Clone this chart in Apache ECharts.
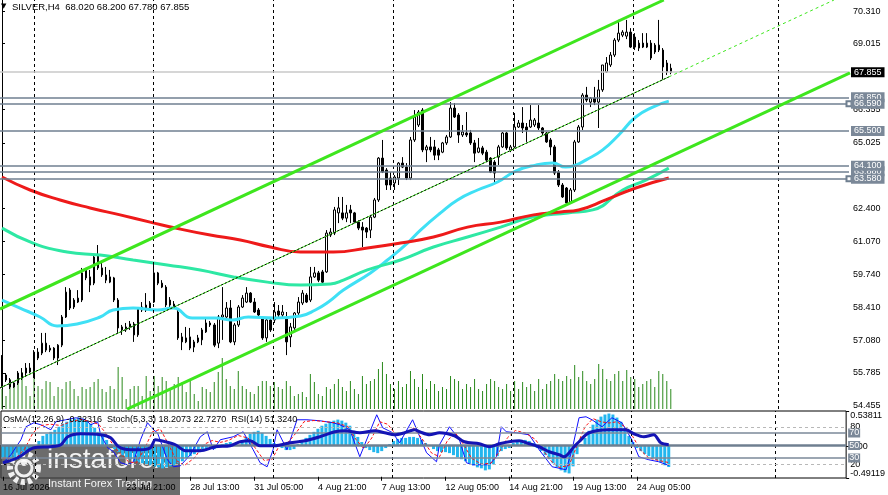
<!DOCTYPE html>
<html>
<head>
<meta charset="utf-8">
<script src="https://cdn.jsdelivr.net/npm/echarts@6/dist/echarts.min.js"></script>
<style>html,body{margin:0;padding:0;background:#fff;}</style>
</head>
<body>
<div id="main" style="width:888px;height:495px;"></div>
<script type="text/javascript">
// SILVER H4, bars 0..167 ([open, close, low, high])
var candles = [
  [55.58,55.66,55.22,56.50],[55.50,55.70,55.42,55.78],[55.50,55.22,55.14,55.58],[55.38,55.22,55.18,55.42],
  [55.38,55.78,55.30,55.86],[55.58,55.78,55.50,55.98],[55.78,55.98,55.62,56.18],[55.98,55.82,55.78,56.18],
  [55.62,56.62,55.58,56.70],[56.62,56.38,56.30,56.78],[56.58,56.98,56.50,57.39],[56.98,56.70,56.62,57.39],
  [56.70,56.78,56.62,56.90],[56.78,56.38,56.30,56.82],[56.38,56.90,56.10,56.94],[56.90,58.03,56.82,58.11],
  [58.03,59.03,57.99,59.23],[59.11,58.39,58.31,59.19],[58.71,58.43,58.35,58.79],[58.63,58.79,58.59,59.11],
  [58.71,59.80,58.63,60.00],[59.92,59.60,59.51,60.00],[59.64,59.31,59.03,59.92],[59.39,60.44,59.31,60.52],
  [60.52,60.00,59.92,60.92],[60.00,59.72,59.64,60.20],[59.72,59.51,59.39,60.04],[59.43,59.64,59.39,59.92],
  [59.60,58.71,58.63,59.64],[58.71,57.59,57.39,58.79],[57.51,57.63,57.31,57.71],[57.51,57.63,57.43,57.79],
  [57.75,57.63,57.51,57.87],[57.75,57.31,57.03,57.83],[57.31,58.39,57.23,58.43],[58.31,58.43,58.23,58.63],
  [58.31,58.51,58.23,58.99],[58.59,58.39,58.31,58.67],[58.63,59.80,58.59,60.12],[59.80,59.39,59.31,59.84],
  [59.39,59.23,59.19,59.51],[59.23,58.51,58.43,59.31],[58.71,58.51,58.39,58.83],[58.43,58.55,58.35,58.67],
  [58.23,57.19,57.11,58.39],[57.23,57.03,56.70,57.39],[57.03,57.19,56.98,57.63],[57.23,56.78,56.70,57.59],
  [56.82,57.03,56.62,57.11],[57.03,57.19,56.98,57.31],[57.11,57.51,56.90,57.59],[57.43,57.79,57.39,57.99],
  [57.79,57.71,57.63,57.87],[57.71,56.90,56.82,57.79],[56.98,58.03,56.78,58.11],[58.03,58.11,57.11,59.23],
  [58.03,58.39,57.99,58.63],[58.39,57.03,56.98,58.71],[57.03,57.71,56.90,57.79],[57.71,58.43,57.63,58.51],
  [58.43,58.79,58.39,58.91],[58.63,58.99,58.59,59.23],[58.99,58.63,58.59,59.03],[58.63,58.23,58.19,58.79],
  [58.31,58.11,58.03,58.39],[57.99,57.19,57.11,58.03],[57.19,57.91,57.03,58.03],[57.91,57.51,57.43,57.99],
  [57.91,58.23,57.79,58.63],[58.27,58.11,57.99,58.51],[58.11,58.23,58.03,58.51],[57.99,57.03,56.50,58.23],
  [57.23,57.63,56.82,57.79],[57.59,58.19,57.51,58.23],[58.19,58.63,58.11,58.83],[58.59,58.99,58.51,59.11],
  [58.91,58.63,58.59,58.99],[58.71,59.64,58.63,60.04],[59.64,59.80,59.60,60.04],[59.80,59.51,59.43,59.88],
  [59.84,59.43,59.39,59.92],[59.84,61.40,59.80,61.52],[61.32,61.44,61.24,61.60],[61.40,62.33,61.32,62.45],
  [62.21,62.41,61.80,62.85],[62.21,62.00,61.92,62.85],[62.00,62.21,61.84,62.53],[62.33,62.21,61.80,62.53],
  [62.21,61.84,61.80,62.25],[61.84,61.60,61.52,61.92],[61.64,61.52,60.84,61.84],[61.60,61.44,61.20,61.64],
  [61.52,62.04,61.20,62.13],[62.04,62.73,62.00,62.81],[62.73,64.41,62.65,64.45],[64.41,63.85,63.81,65.14],
  [63.93,63.33,63.13,64.01],[63.61,63.33,63.13,63.85],[63.41,63.65,63.13,63.73],[63.61,64.21,63.33,64.25],
  [64.21,64.05,64.01,64.45],[64.05,63.61,63.53,64.21],[63.61,65.14,63.53,65.26],[65.14,66.06,65.06,66.34],
  [65.74,66.26,65.66,66.34],[66.34,64.74,64.65,66.42],[64.74,64.86,64.25,64.94],[64.86,64.74,64.65,65.26],
  [64.86,64.53,64.33,65.14],[64.74,64.53,64.33,64.82],[64.65,65.02,64.61,65.06],[65.02,65.26,64.94,65.34],
  [65.26,66.42,65.22,66.66],[66.42,66.06,66.02,66.62],[66.14,65.34,65.02,66.22],[65.34,65.46,65.26,65.74],
  [65.42,65.34,65.26,66.26],[65.42,65.02,64.94,65.54],[65.02,64.61,64.25,65.14],[64.65,64.82,64.61,65.22],
  [64.82,64.61,64.53,64.90],[64.65,64.33,64.25,64.74],[64.41,63.85,63.81,64.45],[64.25,63.81,63.45,64.33],
  [64.45,64.86,64.13,64.94],[64.86,65.42,64.82,65.46],[65.42,64.82,64.74,65.46],[64.74,64.86,64.65,64.94],
  [64.86,65.66,64.82,66.22],[65.66,65.82,65.62,65.94],[65.82,65.62,65.42,66.46],[65.66,65.54,65.06,65.82],
  [65.66,65.94,65.62,66.54],[65.74,65.94,65.66,66.02],[65.82,65.62,65.54,66.54],[65.62,65.42,65.34,65.66],
  [65.42,65.06,65.02,65.46],[65.14,64.86,64.53,65.22],[64.86,63.81,63.73,64.94],[63.85,63.33,63.25,63.93],
  [63.33,62.85,62.81,63.41],[63.21,62.61,62.57,63.25],[62.65,63.13,62.61,63.21],[63.13,65.06,63.05,65.14],
  [65.06,65.66,65.02,65.74],[65.66,66.94,65.54,67.02],[66.94,66.74,66.66,67.27],[66.66,66.82,66.46,66.86],
  [66.82,66.66,66.54,67.27],[66.66,67.15,65.62,67.55],[67.15,68.15,67.07,68.15],[67.87,68.23,67.83,68.47],
  [68.15,68.55,68.07,68.67],[68.55,69.15,68.47,69.23],[69.15,69.43,69.07,69.96],[69.35,69.47,69.27,69.55],
  [69.31,69.47,69.19,69.96],[69.47,68.87,68.83,69.63],[69.27,68.87,68.75,69.43],[68.83,69.03,68.71,69.15],
  [69.03,68.87,68.83,69.43],[68.87,69.03,68.83,69.43],[69.03,68.43,68.35,69.15],[68.67,68.95,68.59,69.03],
  [68.75,68.95,68.67,69.96],[68.75,68.07,67.55,68.83],[68.23,67.87,67.75,68.35],[68.02,67.855,67.78,68.20]
];

var volumes = [
  20,13,30,23,33,37,23,13,33,23,20,28,27,13,22,20,27,28,20,13,22,20,22,27,30,20,17,23,20,42,
  32,10,20,23,23,13,33,18,33,23,32,28,20,25,32,27,17,30,15,8,22,20,17,27,37,51,30,23,20,38,
  23,20,17,15,23,28,28,23,27,22,20,28,23,13,15,17,12,35,27,15,13,22,20,25,30,22,18,28,20,15,
  33,25,28,30,40,47,35,25,20,28,22,25,38,30,22,35,20,28,25,18,22,20,33,30,28,20,25,22,30,20,
  18,25,30,28,22,20,25,18,28,20,27,22,25,18,30,20,25,28,35,30,28,33,30,44,32,38,28,25,30,45,
  40,30,28,35,38,28,39,32,30,22,25,28,30,22,38,35,28,20
];

// moving averages: [bar, price]
var maRed = [[0,63.65],[7,63.13],[14.5,62.73],[22,62.41],[29.5,62.13],[37,61.84],[44.5,61.56],[52,61.32],
  [59.5,61.12],[67,60.84],[74.5,60.64],[82.75,60.64],[91.25,60.80],[99.5,61.00],[107.75,61.24],[116.25,61.64],
  [124.5,61.84],[132.75,62.13],[139.5,62.25],[144,62.33],[150.75,62.73],[158.25,63.21],[166.5,63.61]];
var maTeal = [[0,61.60],[7.75,61.00],[16.25,60.64],[24.5,60.52],[32.75,60.32],[41.25,60.12],[49.5,59.92],
  [57.75,59.64],[66.25,59.43],[74.5,59.31],[82,59.35],[85.25,59.51],[91.25,59.92],[99.5,60.32],[107.75,60.84],
  [116.25,61.24],[124.5,61.64],[132.75,62.05],[141.25,62.21],[147.5,62.33],[155,63.13],[160.75,63.53],[166.5,64.01]];
var maCyan = [[0,58.71],[4.5,58.39],[9.5,58.03],[13.75,57.67],[18.75,57.75],[24.5,58.03],[27.75,58.31],
  [32.75,58.39],[38.75,58.31],[42.75,58.39],[47.5,57.99],[53.25,57.99],[57.5,57.91],[61.5,58.03],[68.25,57.99],
  [74.5,58.07],[78.25,58.31],[81.5,58.63],[85.25,59.11],[92,59.80],[96.25,60.32],[101.25,61.00],[104.5,61.52],
  [109.5,62.21],[113.75,62.73],[118.75,63.13],[123.75,63.45],[128.25,63.89],[133.25,64.13],[137.5,64.21],
  [140.75,64.05],[143.25,64.13],[145.75,64.33],[150,64.74],[154,65.34],[158.25,66.06],[162.5,66.46],[166.5,66.70]];

// trend channel
var chanUpper = [[-0.5,58.35],[165.25,70.76]];
var chanMid = [[-0.5,55.18],[166.5,67.67]];
var chanMidExt = [[166.5,67.67],[207.75,70.76]];
var chanLower = [[31.25,54.33],[211.75,67.83]];

var levelPrices = [63.880, 66.850, 65.500, 64.100];
var levelPricesMarked = [66.590, 63.580];
var lastPrice = 67.855;
var priceTicks = [54.455, 55.785, 57.080, 58.410, 59.740, 61.070, 62.400, 65.025, 66.355, 69.015, 70.310];

// OsMA(12,26,9) histogram per bar
var osma = [
  -0.187,-0.203,-0.203,-0.187,-0.172,-0.140,-0.094,-0.047,-0.016,
  0.078,0.156,0.187,0.218,0.250,0.296,0.343,0.374,0.406,0.421,0.437,0.421,0.390,0.343,0.281,0.218,0.156,0.094,0.031,
  -0.047,-0.094,-0.140,-0.172,-0.203,-0.234,-0.250,-0.265,-0.281,-0.296,-0.312,-0.328,-0.343,-0.328,-0.312,-0.296,
  -0.265,-0.234,-0.187,-0.156,-0.125,-0.094,
  -0.062,-0.047,-0.031,-0.047,-0.016,0.031,0.047,0.062,0.031,0.016,
  0.078,0.140,0.187,0.218,0.234,0.203,
  0.156,0.109,0.047,0.004,-0.031,-0.062,-0.062,-0.047,
  0.031,0.078,0.125,0.172,0.218,0.265,0.312,0.343,0.374,0.390,0.406,0.390,0.359,0.312,
  0.234,0.140,0.062,
  -0.031,-0.062,-0.094,-0.109,-0.078,-0.031,
  0.031,0.078,0.109,0.125,0.125,0.140,0.140,0.125,
  0.094,0.047,0.004,-0.047,-0.078,-0.094,-0.094,
  -0.109,-0.140,-0.172,-0.203,-0.234,-0.265,-0.296,-0.328,-0.343,-0.374,-0.359,-0.281,
  -0.156,-0.078,-0.047,-0.031,
  0.047,0.078,0.094,0.094,0.078,0.047,
  -0.031,-0.078,-0.140,-0.203,-0.265,-0.328,-0.374,-0.406,-0.421,-0.312,-0.125,
  0.031,0.125,0.234,0.328,0.406,0.452,0.484,0.499,0.484,0.437,0.374,0.281,0.156,0.062,
  -0.031,-0.078,-0.125,-0.156,-0.187,-0.218,-0.250,-0.296,-0.323
];

var stochMain = [[0,22.4],[2,35.2],[4.5,59.2],[5.75,80],[7.75,86.4],[9.5,83.2],[12,75.2],[13.25,88],[15.75,91.2],
  [18.25,94.4],[20.75,91.2],[22,83.2],[23.75,88],[24.5,67.2],[26.25,46.4],[27.75,40],[29.5,22.4],[31.25,19.2],
  [32.75,24],[34.5,59.2],[36.25,86.4],[37.75,75.2],[38.75,70.4],[41.25,27.2],[42.75,16],[44.5,17.6],[47,35.2],
  [49.5,64],[51.25,72],[52.75,43.2],[54.5,59.2],[57.75,64],[60.25,72],[62.75,43.2],[64.5,22.4],[66.25,16],
  [67.75,43.2],[68.75,75.2],[71.25,43.2],[73.75,91.2],[76.25,91.2],[79.5,89.6],[82.75,86.4],[84.5,83.2],[87,75.2],
  [89.5,32],[93.75,99.2],[95.25,78.4],[97.75,70.4],[99.5,54.4],[102.75,91.2],[106.25,38.4],[108.75,24],[109.5,51.2],
  [112,80],[114.5,59.2],[116.25,22.4],[117.75,19.2],[122,19.2],[123.75,32],[125,80],[126.25,72],[128.75,70.4],
  [132,67.2],[134.5,43.2],[137.75,16],[141.25,11.2],[142.75,43.2],[144.5,94.4],[146.25,96],[147.75,91.2],[150.25,80],
  [152.75,94.4],[155.25,86.4],[157.75,59.2],[159.5,32],[162,27.2],[164.5,24],[167,18.2]];
var stochSignal = [[0,30],[3,28],[5.5,45],[7.5,70],[9.5,82],[12,84],[14.5,82],[17,88],[19.5,92],[22,88],[24,84],
  [25.5,72],[27.5,52],[29.5,36],[31.5,24],[33.5,22],[35.5,45],[37.5,72],[39.5,76],[41.5,52],[43.5,26],[45.5,18],
  [48,30],[50.5,52],[52.5,58],[54.5,55],[56.5,58],[59,66],[61.5,62],[63.5,44],[65.5,26],[67.5,28],[69.5,52],
  [71.5,55],[73.5,70],[75.5,88],[78,90],[81,88],[84,86],[86.5,80],[88.5,60],[90.5,45],[92.5,62],[94.5,88],
  [96.5,84],[98.5,68],[100.5,68],[103,78],[105,62],[107.5,38],[109.5,32],[111.5,58],[113.5,70],[115.5,52],
  [117.5,30],[120,20],[122.5,22],[124.5,40],[126.5,62],[128.5,74],[131,70],[133.5,60],[135.5,42],[137.5,25],
  [139.5,15],[142,18],[144,50],[146,80],[148,93],[150,88],[152,86],[154,88],[156,80],[158,64],[160,42],[162,30],
  [164.5,26],[167,22.7]];
var rsi = [[0,22.4],[3.75,30.4],[7.75,46.4],[12,48],[14.5,51.2],[16.25,64],[19.5,68.8],[24.5,67.2],[27,62.4],
  [29,48],[32,43.2],[34.5,43.2],[37,46.4],[38.25,59.2],[40.75,56],[43.25,51.2],[45.75,41.6],[49.5,41.6],[53.25,48],
  [57,49.6],[59.5,56],[62,57.6],[64.5,49.6],[68.25,49.6],[72,54.4],[75.75,57.6],[79.5,64],[83.25,72],[85.75,73.6],
  [89.5,70.4],[93.25,73.6],[95.75,70.4],[98.25,67.2],[100.75,70.4],[103.25,75.2],[104.5,72],[107,67.2],[109.5,70.4],
  [113.25,65.6],[115.75,56],[119.5,52.8],[122,48],[124.5,52.8],[127,56],[129.5,57.6],[132,52.8],[134.5,48],[137,40],
  [139.5,35.2],[140.75,32],[143.25,48],[144.5,56],[147,70.4],[152,75.2],[156.25,75.2],[158.25,68.8],[160.75,64],
  [163.25,67.2],[165,54.4],[167,51.3]];

var vGridBars = [8, 37.7, 67.7, 97.6, 127.6, 157.6, 193.8];
var xTickBars = [0, 31, 47, 63, 79, 95, 111, 127, 143, 159];
var xTickLabels = ['16 Jul 2026', '23 Jul 21:00', '28 Jul 13:00', '31 Jul 05:00', '4 Aug 21:00',
  '7 Aug 13:00', '12 Aug 05:00', '14 Aug 21:00', '19 Aug 13:00', '24 Aug 05:00'];

var SLOTS = 212;
var FONT = 'Liberation Sans';
var cats = [];
for (var i = 0; i < SLOTS; i++) cats.push(String(i));

function onTick(idx) { return xTickBars.indexOf(idx) >= 0; }

function levelItem(v, bg, lineColor) {
  return {
    yAxis: v,
    lineStyle: { color: lineColor, width: 1.5, type: 'solid' },
    label: {
      show: true, position: 'end', distance: 2, formatter: v.toFixed(3),
      backgroundColor: bg, color: '#fff', padding: [1, 3, 0, 3],
      fontSize: 9, fontFamily: FONT
    }
  };
}

function indLevel(v, color, width, type, boxed) {
  return {
    yAxis: v,
    lineStyle: { color: color, width: width, type: type },
    label: boxed ? {
      show: true, position: 'end', distance: 2, formatter: String(v),
      backgroundColor: '#7b8898', color: '#fff', padding: [0, 1, 0, 1],
      fontSize: 9, fontFamily: FONT
    } : { show: false }
  };
}

var chartDom = document.getElementById('main');
var myChart = echarts.init(chartDom);
var option = {
  animation: false,
  backgroundColor: '#fff',
  textStyle: { fontFamily: FONT },
  grid: [
    { left: 0, right: 39, top: 0, height: 409 },
    { left: 0, right: 39, top: 411, height: 67, show: true, borderColor: '#000', borderWidth: 1 }
  ],
  xAxis: [
    { type: 'category', gridIndex: 0, data: cats, boundaryGap: true, show: false },
    { type: 'value', gridIndex: 0, min: -0.5, max: SLOTS - 0.5, show: false },
    {
      type: 'category', gridIndex: 1, data: cats, boundaryGap: true,
      axisLine: { show: false },
      axisTick: { show: true, interval: onTick, alignWithLabel: true, length: 4, lineStyle: { color: '#000' } },
      axisLabel: {
        interval: onTick, align: 'left', margin: 5, fontSize: 9, color: '#000', fontFamily: FONT,
        formatter: function (val, idx) { return xTickLabels[xTickBars.indexOf(idx)] || ''; }
      },
      splitLine: { show: false }
    },
    { type: 'value', gridIndex: 1, min: -0.5, max: SLOTS - 0.5, show: false }
  ],
  yAxis: [
    {
      type: 'value', gridIndex: 0, position: 'right', min: 54.335, max: 70.76,
      axisLine: { show: true, lineStyle: { color: '#000', width: 1 } },
      axisTick: { show: true, customValues: priceTicks, length: 3, lineStyle: { color: '#000' } },
      axisLabel: {
        customValues: priceTicks, margin: 4, fontSize: 9, color: '#000', fontFamily: FONT,
        formatter: function (v) { return v.toFixed(3); }
      },
      splitLine: { show: false }
    },
    { type: 'value', gridIndex: 0, min: 0, max: 409, show: false },
    {
      type: 'value', gridIndex: 1, position: 'right', min: -2, max: 105.2,
      axisLine: { show: false },
      axisTick: { show: true, customValues: [20, 80], length: 3, lineStyle: { color: '#000' } },
      axisLabel: { customValues: [20, 80], margin: 4, fontSize: 9, color: '#000', fontFamily: FONT },
      splitLine: { show: false }
    },
    {
      type: 'value', gridIndex: 1, position: 'right', min: -0.49119, max: 0.53811,
      axisLine: { show: false },
      axisTick: { show: true, customValues: [-0.49119, 0, 0.53811], length: 3, lineStyle: { color: '#000' } },
      axisLabel: {
        customValues: [-0.49119, 0, 0.53811], margin: 4, fontSize: 9, color: '#000', fontFamily: FONT,
        verticalAlignMaxLabel: 'top', verticalAlignMinLabel: 'bottom',
        formatter: function (v) { return v === 0 ? '0.00' : v.toFixed(5); }
      },
      splitLine: { show: false }
    }
  ],
  graphic: [
    { type: 'text', left: 1, top: 3, style: { text: '▼', font: '7px DejaVu Sans', fill: '#000' } },
    { type: 'text', left: 12, top: 2, style: { text: 'SILVER,H4  68.020 68.200 67.780 67.855', font: '9.5px ' + FONT, fill: '#000' } },
    { type: 'text', left: 3, top: 415, z: 50, style: { text: 'OsMA(12,26,9) -0.32316  Stoch(5,3,3) 18.2073 22.7270  RSI(14) 51.3240', font: '9px ' + FONT, fill: '#000' } },
    {
      type: 'group', left: 0, top: 445, z: 100,
      children: [
        { type: 'rect', shape: { x: 0, y: 0, width: 180, height: 50 }, style: { fill: 'rgba(66,66,66,0.78)' } },
        { type: 'circle', shape: { cx: 24, cy: 23, r: 14 }, style: { fill: 'none', stroke: 'rgba(255,255,255,0.9)', lineWidth: 6, lineDash: [4, 3] } },
        { type: 'circle', shape: { cx: 24, cy: 23, r: 8 }, style: { fill: 'none', stroke: 'rgba(255,255,255,0.9)', lineWidth: 3 } },
        { type: 'circle', shape: { cx: 24, cy: 18, r: 3 }, style: { fill: 'rgba(255,255,255,0.9)' } },
        { type: 'text', x: 47, y: 1, style: { text: 'instaforex', font: '28px ' + FONT, fill: 'rgba(255,255,255,0.92)' } },
        { type: 'text', x: 48, y: 33, style: { text: 'Instant Forex Trading', font: '11px ' + FONT, fill: 'rgba(255,255,255,0.92)' } }
      ]
    }
  ],
  series: [
    {
      name: 'Volume', type: 'bar', xAxisIndex: 0, yAxisIndex: 1, data: volumes,
      barWidth: 1, itemStyle: { color: '#2b8a1c' }, silent: true, z: 1
    },
    {
      name: 'vgrid-main', type: 'line', xAxisIndex: 1, yAxisIndex: 0, data: [], z: 1,
      markLine: {
        silent: true, symbol: ['none', 'none'], label: { show: false },
        lineStyle: { color: '#000', width: 1, type: [3, 3] },
        data: vGridBars.map(function (b) { return { xAxis: b }; })
      }
    },
    {
      name: 'vgrid-ind', type: 'line', xAxisIndex: 3, yAxisIndex: 2, data: [], z: 1,
      markLine: {
        silent: true, symbol: ['none', 'none'], label: { show: false },
        lineStyle: { color: '#000', width: 1, type: [3, 3] },
        data: vGridBars.map(function (b) { return { xAxis: b }; })
      }
    },
    {
      name: 'levels', type: 'line', xAxisIndex: 1, yAxisIndex: 0, data: [], z: 10,
      markLine: {
        silent: true, symbol: ['none', 'none'],
        data: levelPrices.map(function (v) { return levelItem(v, '#7b8898', '#6f7f90'); })
      }
    },
    {
      name: 'levels-marked', type: 'line', xAxisIndex: 1, yAxisIndex: 0, data: [], z: 11,
      markLine: {
        silent: true, symbol: ['none', 'emptyRect'], symbolSize: 5,
        data: levelPricesMarked.map(function (v) { return levelItem(v, '#7b8898', '#6f7f90'); })
      }
    },
    {
      name: 'last', type: 'line', xAxisIndex: 1, yAxisIndex: 0, data: [], z: 12,
      markLine: { silent: true, symbol: ['none', 'none'], data: [levelItem(lastPrice, '#000', '#c8c8c8')] }
    },
    {
      name: 'SILVER', type: 'candlestick', xAxisIndex: 0, yAxisIndex: 0, data: candles,
      barWidth: 2, z: 3,
      itemStyle: { color: '#fff', color0: '#000', borderColor: '#000', borderColor0: '#000', borderWidth: 1 }
    },
    { name: 'MA cyan', type: 'line', xAxisIndex: 1, yAxisIndex: 0, data: maCyan, smooth: true, showSymbol: false, z: 4, lineStyle: { color: '#3fe0f5', width: 3 } },
    { name: 'MA teal', type: 'line', xAxisIndex: 1, yAxisIndex: 0, data: maTeal, smooth: true, showSymbol: false, z: 4, lineStyle: { color: '#2ee8a4', width: 3 } },
    { name: 'MA red', type: 'line', xAxisIndex: 1, yAxisIndex: 0, data: maRed, smooth: true, showSymbol: false, z: 4, lineStyle: { color: '#ee1a1a', width: 3 } },
    { name: 'chan up', type: 'line', xAxisIndex: 1, yAxisIndex: 0, data: chanUpper, showSymbol: false, z: 5, lineStyle: { color: '#3ee61e', width: 3 } },
    { name: 'chan low', type: 'line', xAxisIndex: 1, yAxisIndex: 0, data: chanLower, showSymbol: false, z: 5, lineStyle: { color: '#3ee61e', width: 3 } },
    { name: 'chan mid g', type: 'line', xAxisIndex: 1, yAxisIndex: 0, data: chanMid, showSymbol: false, z: 5, lineStyle: { color: '#3ee61e', width: 1 } },
    { name: 'chan mid k', type: 'line', xAxisIndex: 1, yAxisIndex: 0, data: chanMid, showSymbol: false, z: 5, lineStyle: { color: '#000', width: 1, type: [2, 2] } },
    { name: 'chan ext', type: 'line', xAxisIndex: 1, yAxisIndex: 0, data: chanMidExt, showSymbol: false, z: 5, lineStyle: { color: '#3ee61e', width: 1, type: [3, 3] } },
    {
      name: 'OsMA', type: 'bar', xAxisIndex: 2, yAxisIndex: 3, data: osma,
      barWidth: 3, itemStyle: { color: '#22b6ee' }, silent: true, z: 2
    },
    {
      name: 'ind-levels', type: 'line', xAxisIndex: 3, yAxisIndex: 2, data: [], z: 3,
      markLine: {
        silent: true, symbol: ['none', 'none'],
        data: [
          indLevel(80, '#b8b8b8', 1, [3, 3], false),
          indLevel(20, '#b8b8b8', 1, [3, 3], false),
          indLevel(70, '#7b8898', 1.5, 'solid', true),
          indLevel(30, '#7b8898', 1.5, 'solid', true),
          indLevel(50, '#6f7f90', 2.5, 'solid', true)
        ]
      }
    },
    { name: 'Stoch', type: 'line', xAxisIndex: 3, yAxisIndex: 2, data: stochMain, showSymbol: false, z: 4, lineStyle: { color: '#1010ff', width: 1 } },
    { name: 'Signal', type: 'line', xAxisIndex: 3, yAxisIndex: 2, data: stochSignal, showSymbol: false, z: 4, lineStyle: { color: '#ff1010', width: 1, type: [3, 2] } },
    { name: 'RSI', type: 'line', xAxisIndex: 3, yAxisIndex: 2, data: rsi, smooth: 0.3, showSymbol: false, z: 5, lineStyle: { color: '#1414b4', width: 3 } }
  ]
};
myChart.setOption(option);
</script>
</body>
</html>
